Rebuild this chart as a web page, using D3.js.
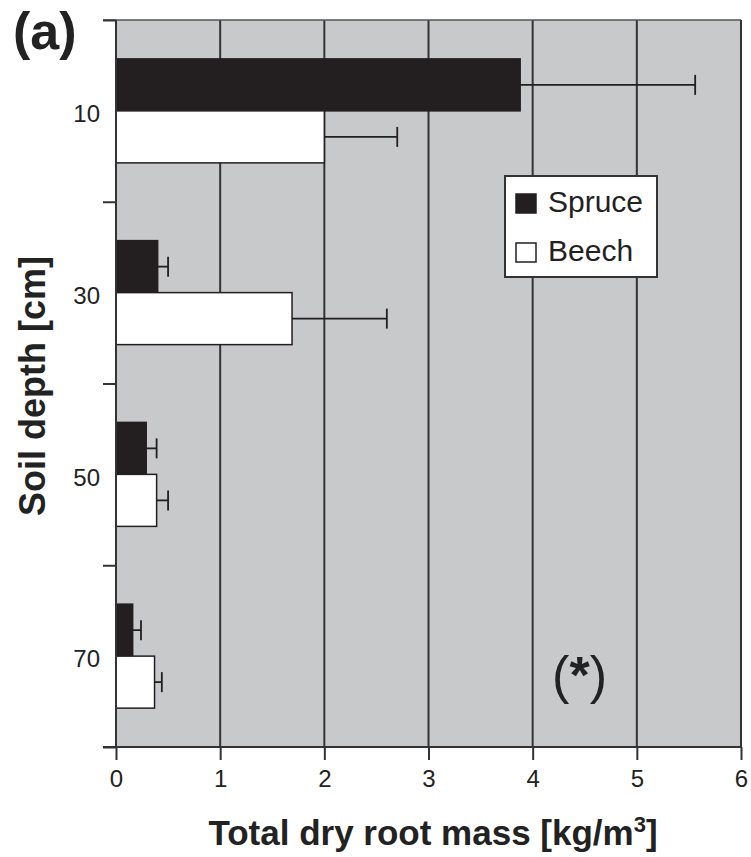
<!DOCTYPE html>
<html>
<head>
<meta charset="utf-8">
<script src="https://cdn.jsdelivr.net/npm/d3@7"></script>
<style>
  body { margin: 0; background: #fff; }
  svg { font-family: "Liberation Sans", Arial, sans-serif; }
</style>
</head>
<body>
<svg id="chart" width="751" height="857"></svg>
<script>
// datos
var depths = [10, 30, 50, 70];
var spruce = [3.88, 0.40, 0.29, 0.16];
var spruceErr = [1.68, 0.10, 0.10, 0.08];
var beech = [2.00, 1.69, 0.39, 0.37];
var beechErr = [0.70, 0.91, 0.11, 0.07];
var xTicks = [0, 1, 2, 3, 4, 5, 6];
var yTicks = [0, 20, 40, 60, 80];
var species = ["Spruce", "Beech"];

var svg = d3.select("#chart");
var margin = {left: 116, top: 20};
var width = 625, height = 727;
var barH = 52;
var ink = "#231f20";

var x = d3.scaleLinear().domain([0, 6]).range([0, width]);
var y = d3.scaleLinear().domain([0, 80]).range([0, height]);
var fillColor = d3.scaleOrdinal().domain(species).range([ink, "#fff"]);

var g = svg.append("g").attr("transform", "translate(" + margin.left + "," + margin.top + ")");

// fondo gris
g.append("rect")
  .attr("width", width).attr("height", height)
  .attr("fill", "#c8c9cb");

// lineas verticales
g.append("g").selectAll("line")
  .data(xTicks.slice(1))
  .enter().append("line")
  .attr("x1", d => x(d)).attr("x2", d => x(d))
  .attr("y1", 0).attr("y2", height)
  .attr("stroke", "#333").attr("stroke-width", 2);

// borde superior
g.append("line")
  .attr("x1", -13).attr("x2", width)
  .attr("y1", 0).attr("y2", 0)
  .attr("stroke", "#555").attr("stroke-width", 1.5);

// barras
var rows = [];
depths.forEach(function(d, i) {
  rows.push({depth: d, sp: "Spruce", v: spruce[i], e: spruceErr[i], y0: y(d) - barH});
  rows.push({depth: d, sp: "Beech", v: beech[i], e: beechErr[i], y0: y(d)});
});

g.append("g").selectAll("rect")
  .data(rows)
  .enter().append("rect")
  .attr("x", 0)
  .attr("y", d => d.y0)
  .attr("width", d => x(d.v))
  .attr("height", barH)
  .attr("fill", d => fillColor(d.sp))
  .attr("stroke", ink).attr("stroke-width", 1.5);

// barras de error
var err = g.append("g").attr("stroke", ink).attr("stroke-width", 1.8);
err.selectAll(".eline")
  .data(rows)
  .enter().append("line")
  .attr("x1", d => x(d.v)).attr("x2", d => x(d.v + d.e))
  .attr("y1", d => d.y0 + barH / 2).attr("y2", d => d.y0 + barH / 2);
err.selectAll(".ecap")
  .data(rows)
  .enter().append("line")
  .attr("x1", d => x(d.v + d.e)).attr("x2", d => x(d.v + d.e))
  .attr("y1", d => d.y0 + barH / 2 - 10).attr("y2", d => d.y0 + barH / 2 + 10);

// eje x
var xAxis = g.append("g")
  .attr("transform", "translate(0," + height + ")")
  .call(d3.axisBottom(x).tickValues(xTicks).tickSize(13).tickPadding(10).tickFormat(d3.format("d")));
xAxis.select(".domain").remove();
xAxis.selectAll(".tick line").attr("stroke", "#333").attr("stroke-width", 2);
xAxis.selectAll("text").attr("font-size", 24).attr("fill", "#222");
xAxis.append("line")
  .attr("x1", -13).attr("x2", width)
  .attr("stroke", "#333").attr("stroke-width", 2);

// eje y
var yAxis = g.append("g")
  .call(d3.axisLeft(y).tickValues(yTicks).tickSize(13).tickFormat(""));
yAxis.select(".domain").remove();
yAxis.selectAll(".tick line").attr("stroke", "#333").attr("stroke-width", 2);
g.append("line")
  .attr("x1", 0).attr("x2", 0).attr("y1", 0).attr("y2", height)
  .attr("stroke", "#333").attr("stroke-width", 2);

var yLab = g.append("g")
  .call(d3.axisLeft(y).tickValues(depths).tickSize(0).tickPadding(16));
yLab.select(".domain").remove();
yLab.selectAll("text").attr("font-size", 24).attr("fill", "#222").attr("dy", "0.45em");

// borde derecho
g.append("line")
  .attr("x1", width).attr("x2", width).attr("y1", 0).attr("y2", height)
  .attr("stroke", "#333").attr("stroke-width", 2);

// leyenda
var legend = g.append("g").attr("transform", "translate(" + (389) + "," + (156) + ")");
legend.append("rect")
  .attr("width", 152).attr("height", 101)
  .attr("fill", "#fff").attr("stroke", "#333").attr("stroke-width", 2);
var li = legend.selectAll(".li")
  .data(species)
  .enter().append("g")
  .attr("transform", (d, i) => "translate(11," + (18 + i * 49) + ")");
li.append("rect")
  .attr("width", 20).attr("height", 19)
  .attr("fill", d => fillColor(d))
  .attr("stroke", ink).attr("stroke-width", 1.5);
li.append("text")
  .attr("x", 32).attr("y", 18)
  .attr("font-size", 30).attr("fill", "#222")
  .text(d => d);

// (*)
var star = g.append("text")
  .attr("x", x(4.45)).attr("y", 673)
  .attr("text-anchor", "middle")
  .attr("font-size", 52).attr("fill", "#222");
star.append("tspan").text("(");
star.append("tspan").attr("font-weight", "bold").text("*");
star.append("tspan").text(")");

// titulos
svg.append("text")
  .attr("x", 433).attr("y", 845)
  .attr("text-anchor", "middle")
  .attr("font-size", 35).attr("font-weight", "bold").attr("fill", "#222")
  .call(function(t) {
    t.append("tspan").text("Total dry root mass [kg/m");
    t.append("tspan").attr("font-size", 22).attr("dy", -13).text("3");
    t.append("tspan").attr("dy", 13).text("]");
  });

svg.append("text")
  .attr("transform", "translate(45,386) rotate(-90)")
  .attr("text-anchor", "middle")
  .attr("font-size", 36).attr("font-weight", "bold").attr("fill", "#222")
  .text("Soil depth [cm]");

svg.append("text")
  .attr("x", 13).attr("y", 49)
  .attr("font-size", 52).attr("font-weight", "bold").attr("fill", "#222")
  .text("(a)");
</script>
</body>
</html>
